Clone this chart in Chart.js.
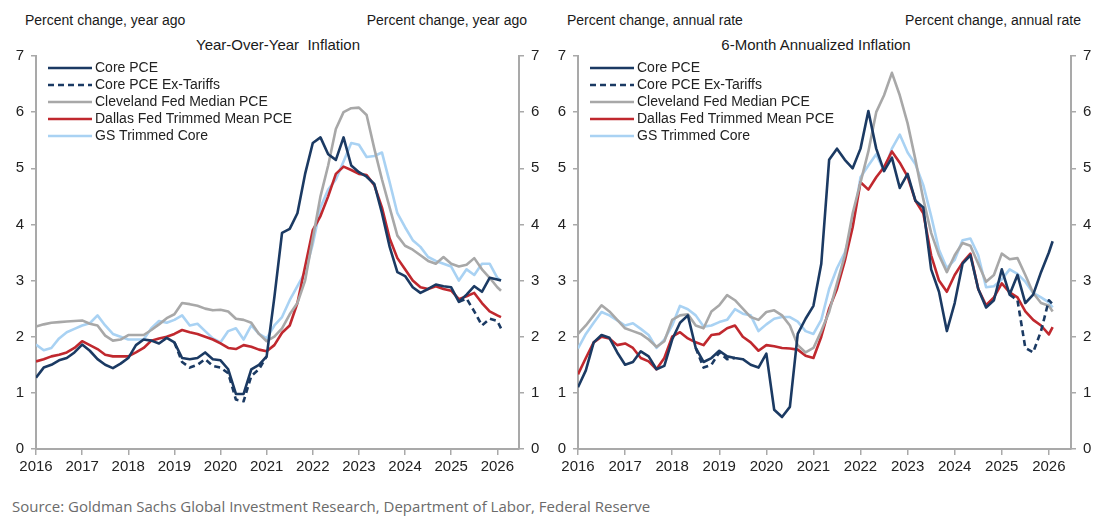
<!DOCTYPE html>
<html>
<head>
<meta charset="utf-8">
<script src="https://cdn.jsdelivr.net/npm/chart.js@4.4.1/dist/chart.umd.min.js"></script>
<style>
  html, body { margin: 0; padding: 0; background: #fff; }
  body { width: 1106px; height: 516px; position: relative; overflow: hidden;
         font-family: "Liberation Sans", Arial, sans-serif; }
  .panel { position: absolute; top: 40px; width: 553px; height: 440px; }
  .txt { position: absolute; font-size: 14px; line-height: 16px; color: #1a1a1a; white-space: nowrap; }
  .ttl { font-size: 15px; transform: translateX(-50%); }
  .src { position: absolute; left: 12px; top: 496px; font-family: "Open Sans", sans-serif;
         font-size: 15px; color: #6b6b6b; white-space: nowrap; }
</style>
</head>
<body>

<div class="txt" style="left:25px; top:12px;">Percent change, year ago</div>
<div class="txt" style="right:579px; top:12px;">Percent change, year ago</div>
<div class="txt ttl" style="left:278px; top:37px;">Year-Over-Year&nbsp; Inflation</div>

<div class="txt" style="left:567px; top:12px;">Percent change, annual rate</div>
<div class="txt" style="right:25px; top:12px;">Percent change, annual rate</div>
<div class="txt ttl" style="left:816px; top:37px;">6-Month Annualized Inflation</div>

<div class="panel" style="left:0;"><canvas id="yoyChart"></canvas></div>
<div class="panel" style="left:553px;"><canvas id="sixChart"></canvas></div>

<div class="src">Source: Goldman Sachs Global Investment Research, Department of Labor, Federal Reserve</div>

<script>
// --- DATA (bimonthly readings, Jan 2016 .. early 2026) ---
var dates = [];
for (var i = 0; i <= 60; i++) dates.push(2016 + i / 6);
dates.push(2026.08);

var xTicks = [2016, 2017, 2018, 2019, 2020, 2021, 2022, 2023, 2024, 2025, 2026];
var yTicks = [0, 1, 2, 3, 4, 5, 6, 7];

var seriesLabels = ['Core PCE', 'Core PCE Ex-Tariffs', 'Cleveland Fed Median PCE',
                    'Dallas Fed Trimmed Mean PCE', 'GS Trimmed Core'];

// Year-over-year
var yoyCore = [
  1.27, 1.45, 1.50, 1.58, 1.62, 1.72,
  1.86, 1.75, 1.60, 1.50, 1.44, 1.52,
  1.62, 1.85, 1.95, 1.93, 1.88, 1.98,
  1.90, 1.62, 1.60, 1.62, 1.72, 1.60,
  1.58, 1.42, 0.98, 0.98, 1.42, 1.50,
  1.65, 2.70, 3.85, 3.92, 4.20, 4.90,
  5.45, 5.55, 5.25, 5.15, 5.55, 5.05,
  4.93, 4.85, 4.72, 4.20, 3.60, 3.15,
  3.08, 2.88, 2.78, 2.85, 2.93, 2.90,
  2.88, 2.62, 2.75, 2.90, 2.80, 3.05,
  3.02, 3.00
];
var yoyExTariffs = [
  null, null, null, null, null, null,
  null, null, null, null, null, null,
  null, null, null, null, null, null,
  1.90, 1.55, 1.45, 1.50, 1.60, 1.48,
  1.45, 1.35, 0.88, 0.85, 1.30, 1.42,
  1.65, null, null, null, null, null,
  null, null, null, null, null, null,
  null, null, null, null, null, null,
  null, null, null, null, null, null,
  null, 2.62, 2.68, 2.45, 2.20, 2.32,
  2.28, 2.15
];
var yoyCleveland = [
  2.18, 2.22, 2.25, 2.26, 2.27, 2.28,
  2.29, 2.23, 2.20, 2.02, 1.93, 1.95,
  2.03, 2.03, 2.03, 2.12, 2.22, 2.33,
  2.40, 2.60, 2.58, 2.55, 2.50, 2.47,
  2.48, 2.45, 2.32, 2.30, 2.25, 2.05,
  1.92, 2.00, 2.15, 2.40, 2.60, 3.00,
  3.75, 4.50, 5.05, 5.70, 6.00, 6.07,
  6.08, 5.95, 5.35, 4.80, 4.30, 3.80,
  3.62, 3.55, 3.45, 3.35, 3.30, 3.42,
  3.30, 3.25, 3.28, 3.40, 3.20, 3.05,
  2.88, 2.82
];
var yoyDallas = [
  1.56, 1.60, 1.65, 1.68, 1.72, 1.80,
  1.92, 1.85, 1.78, 1.68, 1.65, 1.65,
  1.65, 1.72, 1.80, 1.93, 1.97, 2.00,
  2.05, 2.12, 2.08, 2.05, 2.00, 1.95,
  1.88, 1.80, 1.78, 1.85, 1.82, 1.77,
  1.74, 1.85, 2.07, 2.20, 2.60, 3.25,
  3.90, 4.15, 4.50, 4.90, 5.03, 4.97,
  4.90, 4.88, 4.70, 4.30, 3.75, 3.40,
  3.20, 3.00, 2.88, 2.85, 2.90, 2.85,
  2.82, 2.67, 2.72, 2.78, 2.60, 2.45,
  2.38, 2.35
];
var yoyGsTrimmed = [
  1.86, 1.76, 1.80, 1.97, 2.08, 2.14,
  2.20, 2.24, 2.38, 2.20, 2.05, 2.00,
  1.95, 1.95, 1.95, 2.15, 2.28, 2.25,
  2.30, 2.38, 2.20, 2.23, 2.10, 1.97,
  1.90, 2.10, 2.15, 1.95, 2.20, 2.05,
  1.97, 2.20, 2.35, 2.65, 2.90, 3.15,
  3.65, 4.30, 4.62, 4.80, 5.12, 5.45,
  5.42, 5.20, 5.22, 5.28, 4.75, 4.20,
  3.95, 3.72, 3.60, 3.42, 3.35, 3.30,
  3.25, 3.00, 3.20, 3.10, 3.30, 3.30,
  3.05, 3.00
];

// 6-month annualized
var sixCore = [
  1.10, 1.40, 1.90, 2.03, 1.98, 1.72,
  1.50, 1.55, 1.74, 1.65, 1.42, 1.48,
  1.95, 2.25, 2.38, 1.80, 1.55, 1.62,
  1.75, 1.65, 1.62, 1.60, 1.50, 1.45,
  1.70, 0.70, 0.57, 0.75, 2.05, 2.32,
  2.55, 3.30, 5.15, 5.35, 5.15, 5.00,
  5.35, 6.02, 5.35, 4.95, 5.19, 4.65,
  4.90, 4.42, 4.30, 3.20, 2.80, 2.10,
  2.60, 3.30, 3.45, 2.85, 2.52, 2.65,
  3.20, 2.75, 3.10, 2.60, 2.75, 3.15,
  3.50, 3.70
];
var sixExTariffs = [
  null, null, null, null, null, null,
  null, null, null, null, null, null,
  null, null, null, 1.80, 1.45, 1.50,
  1.72, 1.60, 1.62, null, null, null,
  null, null, null, null, null, null,
  null, null, null, null, null, null,
  null, null, null, null, null, null,
  null, null, null, null, null, null,
  null, null, null, null, null, null,
  null, 2.75, 2.65, 1.80, 1.72, 2.10,
  2.65, 2.58
];
var sixCleveland = [
  2.05, 2.20, 2.38, 2.56, 2.45, 2.30,
  2.15, 2.10, 2.05, 1.95, 1.82, 1.92,
  2.30, 2.38, 2.40, 2.20, 2.15, 2.45,
  2.56, 2.74, 2.65, 2.50, 2.35, 2.30,
  2.44, 2.47, 2.38, 2.20, 1.85, 1.72,
  1.80, 2.10, 2.44, 2.95, 3.45, 4.20,
  4.75, 5.30, 6.00, 6.30, 6.70, 6.30,
  5.80, 5.15, 4.45, 3.85, 3.45, 3.15,
  3.45, 3.67, 3.62, 3.30, 2.98, 3.10,
  3.48, 3.38, 3.40, 3.10, 2.78, 2.60,
  2.55, 2.45
];
var sixDallas = [
  1.33, 1.62, 1.90, 2.00, 1.97, 1.85,
  1.88, 1.80, 1.62, 1.56, 1.42, 1.62,
  2.00, 2.08, 1.97, 1.90, 1.85, 2.03,
  2.05, 2.15, 2.20, 2.00, 1.90, 1.75,
  1.85, 1.83, 1.80, 1.79, 1.77, 1.66,
  1.62, 2.00, 2.50, 2.85, 3.35, 3.95,
  4.75, 4.62, 4.84, 5.02, 5.30, 5.10,
  4.85, 4.42, 4.20, 3.45, 3.00, 2.80,
  3.10, 3.32, 3.48, 2.85, 2.56, 2.70,
  2.95, 2.79, 2.70, 2.45, 2.30, 2.20,
  2.04, 2.17
];
var sixGsTrimmed = [
  1.79, 2.05, 2.25, 2.44, 2.38, 2.29,
  2.20, 2.24, 2.14, 2.03, 1.80, 1.95,
  2.20, 2.55, 2.49, 2.38, 2.18, 2.20,
  2.26, 2.30, 2.49, 2.41, 2.38, 2.10,
  2.22, 2.32, 2.35, 2.35, 2.27, 2.10,
  2.05, 2.30, 2.85, 3.22, 3.50, 4.00,
  4.84, 5.05, 5.25, 4.95, 5.35, 5.60,
  5.28, 5.07, 4.70, 4.15, 3.55, 3.22,
  3.37, 3.72, 3.75, 3.45, 2.88, 2.90,
  3.02, 3.20, 3.12, 2.98, 2.78, 2.70,
  2.61, 2.52
];

// --- STYLE ---
var seriesColors = ['#1b3a63', '#1b3a63', '#a8a8a8', '#c0282e', '#a9d2f3'];
var seriesDash = [[], [6, 4], [], [], []];
var axisGray = '#a9a9a9';
var tickColor = '#222';
var tickFont = { family: '"Liberation Sans", Arial, sans-serif', size: 15 };

// Legend drawn inside the plot, top-left, from the dataset styles
var insetLegend = {
  id: 'insetLegend',
  afterDatasetsDraw: function (chart) {
    var ctx = chart.ctx, area = chart.chartArea;
    ctx.save();
    ctx.font = '14px "Liberation Sans", Arial, sans-serif';
    ctx.textBaseline = 'middle';
    chart.data.datasets.forEach(function (ds, i) {
      var y = area.top + 12 + i * 17;
      var x0 = area.left + 12;
      ctx.strokeStyle = ds.borderColor;
      ctx.lineWidth = ds.borderWidth;
      ctx.setLineDash(ds.borderDash || []);
      ctx.beginPath();
      ctx.moveTo(x0, y);
      ctx.lineTo(x0 + 44, y);
      ctx.stroke();
      ctx.setLineDash([]);
      ctx.fillStyle = tickColor;
      ctx.fillText(ds.label, x0 + 47, y);
    });
    ctx.restore();
  }
};

function yAxis(position, width) {
  return {
    position: position,
    min: 0, max: 7,
    afterBuildTicks: function (axis) { axis.ticks = yTicks.map(function (v) { return { value: v }; }); },
    afterFit: function (axis) { axis.width = width; },
    ticks: { color: tickColor, font: tickFont, padding: 7 },
    grid: { drawOnChartArea: false, drawTicks: true, tickLength: 5, color: axisGray, lineWidth: 1.5 },
    border: { color: axisGray, width: 2 }
  };
}

function buildChart(canvasId, series, leftW, rightW) {
  var datasets = series.map(function (values, s) {
    return {
      label: seriesLabels[s],
      data: dates.map(function (x, i) { return { x: x, y: values[i] }; }),
      borderColor: seriesColors[s],
      borderWidth: 2.6,
      borderDash: seriesDash[s],
      pointRadius: 0,
      tension: 0,
      borderJoinStyle: 'round',
      spanGaps: false
    };
  });

  return new Chart(document.getElementById(canvasId), {
    type: 'line',
    data: { datasets: datasets },
    plugins: [insetLegend],
    options: {
      responsive: true,
      maintainAspectRatio: false,
      animation: false,
      devicePixelRatio: 1,
      layout: { padding: { top: 10, left: 0, right: 0, bottom: 0 } },
      plugins: { legend: { display: false }, tooltip: { enabled: false }, title: { display: false } },
      scales: {
        x: {
          type: 'linear',
          min: 2016, max: 2026.47,
          afterBuildTicks: function (axis) { axis.ticks = xTicks.map(function (v) { return { value: v }; }); },
          afterFit: function (axis) { axis.height = 31; },
          ticks: { color: tickColor, font: tickFont, padding: 3, maxRotation: 0, autoSkip: false,
                   callback: function (v) { return String(v); } },
          grid: { drawOnChartArea: false, drawTicks: true, tickLength: 6, color: axisGray, lineWidth: 1.5 },
          border: { color: axisGray, width: 2 }
        },
        y: yAxis('left', leftW),
        y2: yAxis('right', rightW)
      }
    }
  });
}

buildChart('yoyChart', [yoyCore, yoyExTariffs, yoyCleveland, yoyDallas, yoyGsTrimmed], 36, 34);
buildChart('sixChart', [sixCore, sixExTariffs, sixCleveland, sixDallas, sixGsTrimmed], 25, 35);
</script>
</body>
</html>
